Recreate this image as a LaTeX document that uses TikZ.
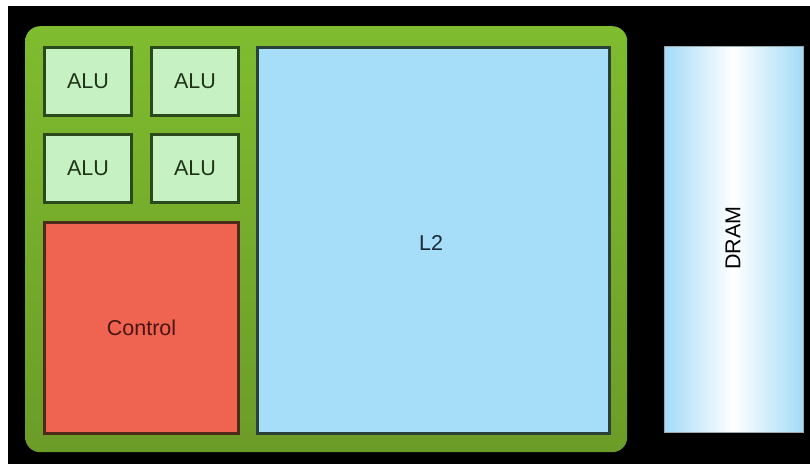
\documentclass[tikz,border=0pt]{standalone}
\usepackage{fontspec}
\setmainfont{Liberation Sans}
\definecolor{chipTop}{HTML}{7FBC2F}
\definecolor{chipBot}{HTML}{6C9C28}
\definecolor{aluFill}{HTML}{C6F1C2}
\definecolor{aluEdge}{HTML}{2B4A1C}
\definecolor{aluText}{HTML}{1E3318}
\definecolor{ctrlFill}{HTML}{EE6450}
\definecolor{ctrlEdge}{HTML}{4E2A1A}
\definecolor{ctrlText}{HTML}{4A1410}
\definecolor{cacheFill}{HTML}{A6DDF9}
\definecolor{cacheEdge}{HTML}{2A4038}
\definecolor{cacheText}{HTML}{1A2A36}
\definecolor{dramBlue}{HTML}{A3DBF7}
\definecolor{dramEdge}{HTML}{9AA8B0}
\tikzset{
  unit/.style={draw, rectangle, line width=2.5pt, inner sep=0pt,
    anchor=north west, font=\fontsize{21.5}{24}\selectfont},
  alu/.style={unit, fill=aluFill, draw=aluEdge, text=aluText,
    minimum width=87pt, minimum height=68pt},
  ctrl/.style={unit, fill=ctrlFill, draw=ctrlEdge, text=ctrlText},
  cache/.style={unit, fill=cacheFill, draw=cacheEdge, text=cacheText},
  dram/.style={rectangle, draw=dramEdge, line width=1pt, anchor=north west,
    left color=dramBlue, right color=dramBlue, middle color=white,
    inner sep=0pt, font=\fontsize{21.5}{24}\selectfont},
}
\begin{document}
\begin{tikzpicture}[x=1pt,y=-1pt]
  % page and black backdrop
  \useasboundingbox (0,0) rectangle (810,464);
  \fill[white] (0,0) rectangle (810,464);
  \fill[black] (8,6) rectangle (810,464);

  % chip package
  \node[rectangle, rounded corners=15pt, anchor=north west,
        minimum width=602pt, minimum height=426pt, inner sep=0pt,
        top color=chipTop, bottom color=chipBot] (chip) at (25,26) {};

  % arithmetic units (anchors offset by half the border width)
  \node[alu] (alu1) at (43.25,46.25)  {ALU};
  \node[alu] (alu2) at (150.25,46.25) {ALU};
  \node[alu] (alu3) at (43.25,133.25) {ALU};
  \node[alu] (alu4) at (150.25,133.25) {ALU};

  % control logic
  \node[ctrl, minimum width=194pt, minimum height=211pt] (ctrl) at (43.25,221.25) {Control};

  % level-2 cache
  \node[cache, minimum width=352pt, minimum height=386pt] (l2) at (256.25,46.25) {};
  \node[font=\fontsize{21.5}{24}\selectfont, text=cacheText] (l2lbl) at (431,243) {L2};

  % external memory
  \node[dram, minimum width=139pt, minimum height=386pt] (dram) at (663.5,45.5) {};
  \node[rotate=90, font=\fontsize{21.5}{24}\selectfont, text=black] (dramlbl) at (733,238) {DRAM};
\end{tikzpicture}
\end{document}
